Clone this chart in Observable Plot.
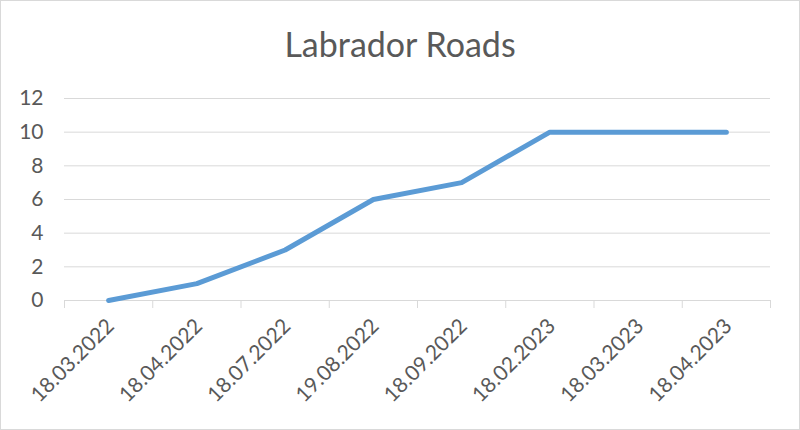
<!DOCTYPE html>
<html>
<head>
<meta charset="utf-8">
<script src="https://cdn.jsdelivr.net/npm/d3@7"></script>
<script src="https://cdn.jsdelivr.net/npm/@observablehq/plot@0.6"></script>
<style>
  html, body { margin: 0; padding: 0; background: #fff; }
  #wrap { position: relative; width: 798px; height: 428px; border: 1px solid #d9d9d9; background: #fff; overflow: hidden; }
  #title { position: absolute; left: 0; right: 0; top: 22px; text-align: center; font-family: Lato, "Liberation Sans", sans-serif; font-size: 34px; color: #595959; }
  #chart { position: absolute; left: 0; top: 0; }
</style>
</head>
<body>
<div id="wrap">
  <div id="title">Labrador Roads</div>
  <div id="chart"></div>
</div>
<script>
const dates = ["18.03.2022", "18.04.2022", "18.07.2022", "19.08.2022", "18.09.2022", "18.02.2023", "18.03.2023", "18.04.2023"];
const values = [0, 1, 3, 6, 7, 10, 10, 10];
const yTicks = [0, 2, 4, 6, 8, 10, 12];

const data = dates.map((d, i) => ({i, date: d, value: values[i]}));
const idx = dates.map((d, i) => i);
const bounds = [...idx.map(i => i - 0.5), dates.length - 0.5];

const chart = Plot.plot({
  width: 798,
  height: 428,
  marginLeft: 63,
  marginRight: 29,
  marginTop: 97,
  marginBottom: 129,
  style: {fontFamily: "Lato, 'Liberation Sans', sans-serif", fontSize: "21px", color: "#595959", background: "transparent"},
  x: {type: "linear", domain: [-0.5, dates.length - 0.5]},
  y: {domain: [0, 12]},
  marks: [
    Plot.ruleY(yTicks, {stroke: "#d9d9d9", strokeWidth: 1, strokeOpacity: 1}),
    Plot.axisY({ticks: yTicks, tickSize: 0, tickPadding: 21, label: null, fill: "#595959", fontSize: 21}),
    Plot.axisX({ticks: bounds, tickSize: 8, tickFormat: () => "", stroke: "#d9d9d9", strokeOpacity: 1, label: null}),
    Plot.axisX({ticks: idx, tickSize: 0, tickPadding: 22, tickRotate: -45, tickFormat: i => dates[i], label: null, fill: "#595959", fontSize: 21, dx: 2}),
    Plot.line(data, {x: "i", y: "value", stroke: "#5b9bd5", strokeWidth: 5, strokeLinecap: "round", strokeLinejoin: "round"})
  ]
});
document.getElementById("chart").appendChild(chart);
</script>
</body>
</html>
